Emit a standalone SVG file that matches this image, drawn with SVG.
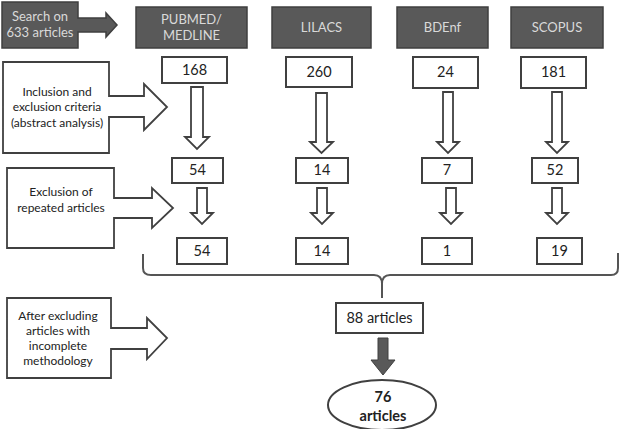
<svg xmlns="http://www.w3.org/2000/svg" width="624" height="429" viewBox="0 0 624 429">
<style>
.dark{fill:#595959;stroke:#3f3f3f;stroke-width:1.5}
.dt{fill:#d9d9d9;font-family:Lato,"Open Sans","Liberation Sans",sans-serif;font-size:13px;text-anchor:middle}
.box{fill:#fff;stroke:#404040;stroke-width:2}
.num{fill:#222;font-family:Lato,"Open Sans","Liberation Sans",sans-serif;font-size:14.5px;text-anchor:middle}
.lab{fill:#222;font-family:Lato,"Open Sans","Liberation Sans",sans-serif;font-size:12px;text-anchor:middle}
.harrow{fill:#fff;stroke:#404040;stroke-width:1.8;stroke-linejoin:miter}
.brace{fill:none;stroke:#555;stroke-width:2}
</style>
<rect width="624" height="429" fill="#fff"/>
<g id="search">
<polygon class="dark" points="2,2 78,2 78,18 106,18 106,13 117,25 106,37 106,32 78,32 78,48 2,48"/>
<text class="dt" x="40" y="21">Search on</text>
<text class="dt" x="40" y="37">633 articles</text>
</g>
<g id="pubmed"><rect class="dark" x="136" y="7" width="111" height="41"/><text class="dt" x="191.5" y="24">PUBMED/</text><text class="dt" x="191.5" y="40">MEDLINE</text></g>
<g id="lilacs"><rect class="dark" x="272" y="7" width="99" height="41"/><text class="dt" x="321.5" y="32">LILACS</text></g>
<g id="bdenf"><rect class="dark" x="397" y="7" width="91" height="41"/><text class="dt" x="442.5" y="32">BDEnf</text></g>
<g id="scopus"><rect class="dark" x="511" y="7" width="92" height="41"/><text class="dt" x="557" y="32">SCOPUS</text></g>

<g id="inclusion">
<polygon class="harrow" points="3,62 109,62 109,96 144,96 144,84 167,107 144,130 144,117 109,117 109,153 3,153"/>
<text class="lab" x="57" y="96">Inclusion and</text>
<text class="lab" x="57" y="111">exclusion criteria</text>
<text class="lab" x="57" y="127">(abstract analysis)</text>
</g>
<g id="exclusion">
<polygon class="harrow" points="7,168 114,168 114,198 152,198 152,188 173,208 152,228 152,218 114,218 114,248 7,248"/>
<text class="lab" x="61" y="196">Exclusion of</text>
<text class="lab" x="61" y="212">repeated articles</text>
</g>
<g id="after">
<polygon class="harrow" points="7,298 111,298 111,328 147,328 147,318 167,338 147,359 147,349 111,349 111,378 7,378"/>
<text class="lab" x="58" y="320">After excluding</text>
<text class="lab" x="58" y="335">articles with</text>
<text class="lab" x="58" y="350">incomplete</text>
<text class="lab" x="58" y="365">methodology</text>
</g>

<g id="n168"><rect class="box" x="162" y="57" width="65" height="26"/><text class="num" x="194.5" y="75">168</text></g>
<g id="n260"><rect class="box" x="286" y="57" width="66" height="30"/><text class="num" x="319" y="77">260</text></g>
<g id="n24"><rect class="box" x="413" y="57" width="65" height="31"/><text class="num" x="445.5" y="77">24</text></g>
<g id="n181"><rect class="box" x="521" y="57" width="65" height="31"/><text class="num" x="553.5" y="77">181</text></g>

<g id="n54a"><rect class="box" x="172" y="158" width="51" height="25"/><text class="num" x="197.5" y="175">54</text></g>
<g id="n14a"><rect class="box" x="296" y="158" width="52" height="25"/><text class="num" x="322" y="175">14</text></g>
<g id="n7"><rect class="box" x="422" y="158" width="50" height="25"/><text class="num" x="447" y="175">7</text></g>
<g id="n52"><rect class="box" x="532" y="158" width="46" height="25"/><text class="num" x="555" y="175">52</text></g>

<g id="n54b"><rect class="box" x="177" y="238" width="50" height="26"/><text class="num" x="202" y="256">54</text></g>
<g id="n14b"><rect class="box" x="296" y="238" width="52" height="26"/><text class="num" x="322" y="256">14</text></g>
<g id="n1"><rect class="box" x="422" y="238" width="50" height="26"/><text class="num" x="447" y="256">1</text></g>
<g id="n19"><rect class="box" x="537" y="238" width="45" height="26"/><text class="num" x="559.5" y="256">19</text></g>

<g id="n88"><rect class="box" x="336" y="303" width="87" height="30"/><text class="num" x="379.5" y="323" font-size="15.5">88 articles</text></g>
<g id="n76"><ellipse cx="382" cy="405" rx="54" ry="25" fill="#fff" stroke="#404040" stroke-width="2"/>
<text class="num" x="383" y="402" font-weight="bold" font-size="15">76</text>
<text class="num" x="383" y="421" font-weight="bold" font-size="15">articles</text></g>

<g id="connectors">
<polygon class="harrow" points="191,87 203,87 203,137 209,137 197,149 185,137 191,137"/>
<polygon class="harrow" points="316,93 327,93 327,142 333,142 321.5,153 310,142 316,142"/>
<polygon class="harrow" points="443,92 453,92 453,142 459,142 448,153 437,142 443,142"/>
<polygon class="harrow" points="552,92 562,92 562,142 568,142 557,153 546,142 552,142"/>

<polygon class="harrow" points="197,188 207,188 207,213 213,213 202,224 191,213 197,213"/>
<polygon class="harrow" points="317,188 327,188 327,213 333,213 322,224 311,213 317,213"/>
<polygon class="harrow" points="446,188 456,188 456,213 462,213 451,224 440,213 446,213"/>
<polygon class="harrow" points="552,188 562,188 562,213 568,213 557,224 546,213 552,213"/>

<path class="brace" d="M143,254 L143,268 Q143,275 151,275 L374,275 Q382,275 382,284 L382,298 M382,284 Q382,275 390,275 L611,275 Q618,275 618,268 L618,253"/>
<polygon points="378,338 388,338 388,360 395,360 383,375 371,360 378,360" fill="#595959" stroke="#404040" stroke-width="1"/>
</g>
</svg>
